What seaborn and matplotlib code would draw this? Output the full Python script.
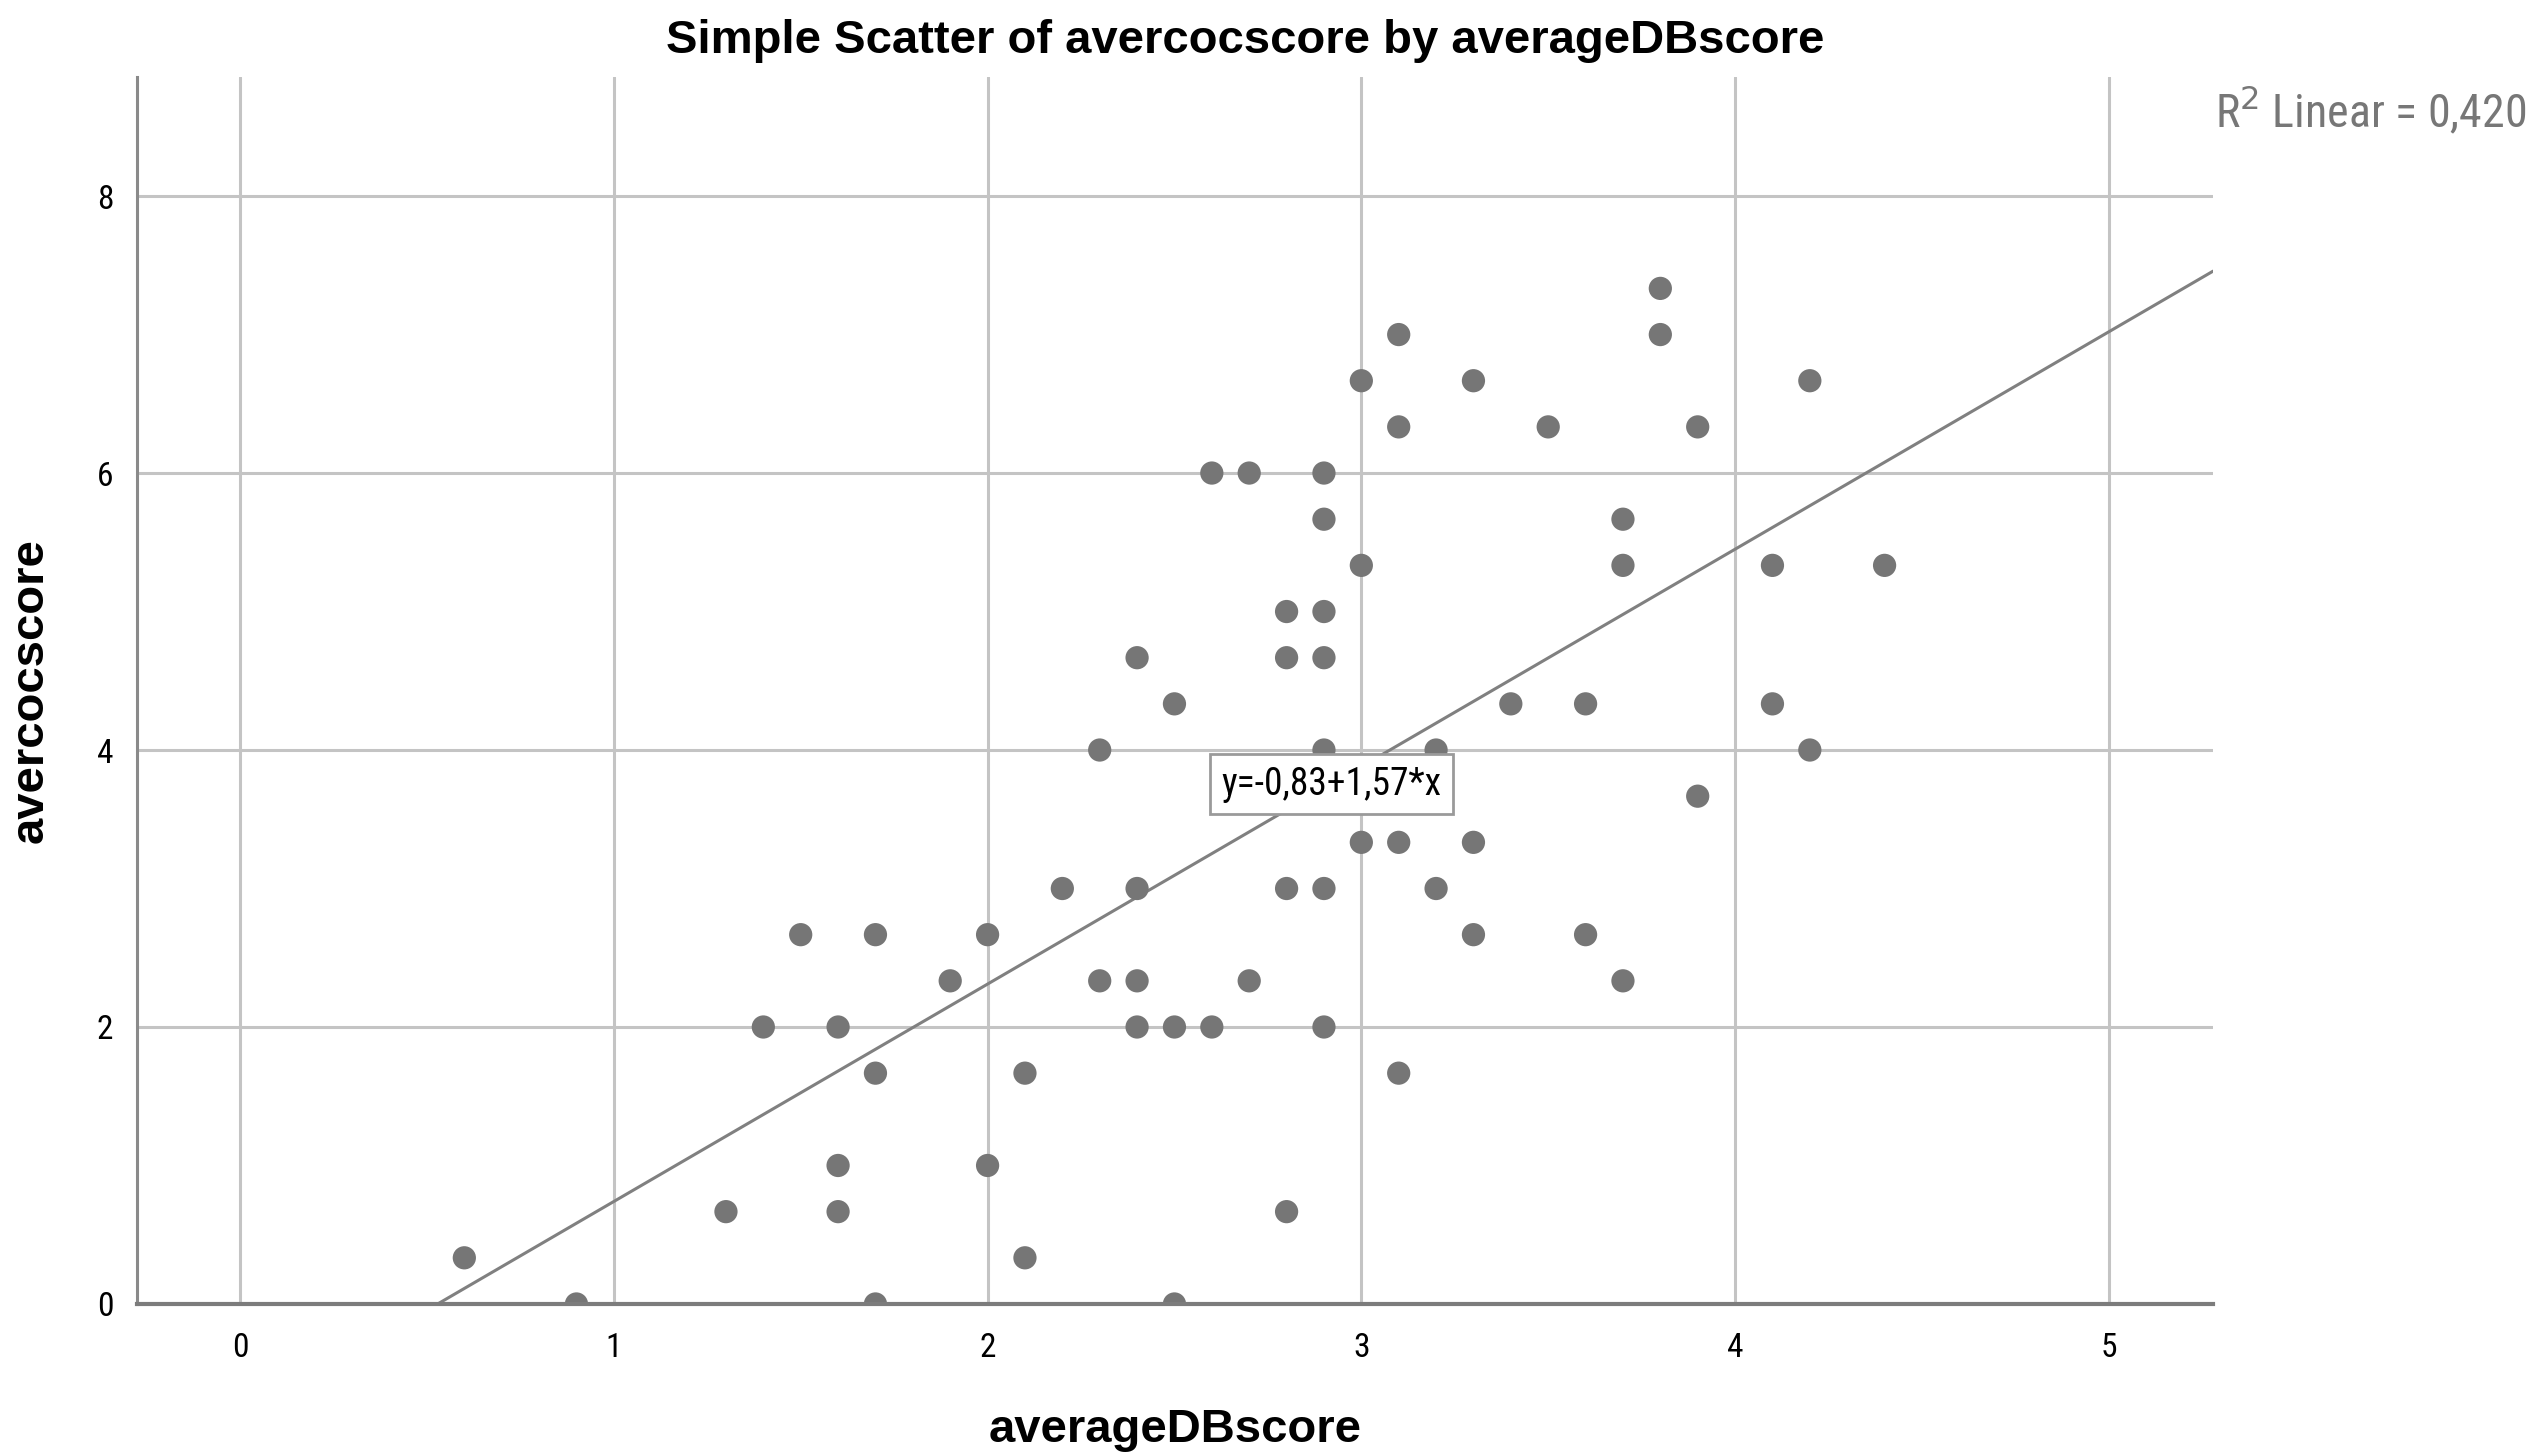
import os
import numpy as np
import pandas as pd
import matplotlib
matplotlib.use("Agg")
import matplotlib.pyplot as plt
import seaborn as sns
from matplotlib import font_manager
from matplotlib.font_manager import FontProperties

# averageDBscore (x) and avercocscore (y) for each respondent
average_db = [0.6, 0.9, 1.3, 1.4, 1.5, 1.6, 1.6, 1.6, 1.7, 1.7, 1.7, 1.9, 2.0, 2.0,
              2.1, 2.1, 2.2, 2.3, 2.3, 2.4, 2.4, 2.4, 2.4, 2.5, 2.5, 2.5, 2.6, 2.6,
              2.7, 2.7, 2.8, 2.8, 2.8, 2.8, 2.9, 2.9, 2.9, 2.9, 2.9, 2.9, 2.9,
              3.0, 3.0, 3.0, 3.1, 3.1, 3.1, 3.1, 3.2, 3.2, 3.3, 3.3, 3.3, 3.4,
              3.5, 3.6, 3.6, 3.7, 3.7, 3.7, 3.8, 3.8, 3.9, 3.9, 4.1, 4.1, 4.2,
              4.2, 4.4]
avercoc = [1/3, 0, 2/3, 2, 8/3, 2, 1, 2/3, 8/3, 5/3, 0, 7/3, 8/3, 1,
           5/3, 1/3, 3, 4, 7/3, 14/3, 3, 7/3, 2, 13/3, 2, 0, 6, 2,
           6, 7/3, 5, 14/3, 3, 2/3, 6, 17/3, 5, 14/3, 4, 3, 2,
           20/3, 16/3, 10/3, 7, 19/3, 10/3, 5/3, 4, 3, 20/3, 10/3, 8/3, 13/3,
           19/3, 13/3, 8/3, 17/3, 16/3, 7/3, 22/3, 7, 19/3, 11/3, 16/3, 13/3, 20/3,
           4, 16/3]

# fitted linear model as reported
intercept = -0.83
slope = 1.57
r_squared = "0,420"

x_ticks = [0, 1, 2, 3, 4, 5]
y_ticks = [0, 2, 4, 6, 8]

title = "Simple Scatter of avercocscore by averageDBscore"
x_label = "averageDBscore"
y_label = "avercocscore"

sns.set_theme(style="white")
plt.rcParams["font.family"] = ["Liberation Sans", "DejaVu Sans"]


def find_narrow_font():
    """Pick a regular-weight condensed sans face if one is installed."""
    prefs = ["liberation sans narrow", "roboto condensed", "open sans condensed",
             "noto sans condensed", "dejavu sans condensed", "dejavu sans"]
    found = []
    for f in font_manager.fontManager.ttflist:
        base = os.path.basename(f.fname).lower()
        name = f.name.lower()
        is_narrow = ("narrow" in base or "condensed" in base or "narrow" in name
                     or "condensed" in name or f.stretch in ("condensed", "semi-condensed"))
        if not is_narrow or f.style != "normal":
            continue
        if "bold" in base or "light" in base or "thin" in base or "black" in base \
                or "medium" in base or "semibold" in base or "oblique" in base or "italic" in base:
            continue
        key = base.replace("-", " ").replace("_", " ")
        rank = len(prefs)
        for i, p in enumerate(prefs):
            if p.split()[0] in key or p.split()[0] in name:
                rank = i
                break
        found.append((rank, f.fname))
    if found:
        found.sort()
        return found[0][1]
    return None


narrow_path = find_narrow_font()


def narrow_props(size):
    if narrow_path:
        return FontProperties(fname=narrow_path, size=size)
    return FontProperties(family=["Liberation Sans", "DejaVu Sans"], size=size)


df = pd.DataFrame({x_label: average_db, y_label: avercoc})

fig = plt.figure(figsize=(25.31, 14.55), dpi=100)
ax = fig.add_axes([0.0541, 0.1038, 0.8203, 0.8433])

xlim = (-0.276, 5.279)
ylim = (0, 8.86)
ax.set_xlim(*xlim)
ax.set_ylim(*ylim)

grid_color = "#c4c4c4"
for xv in x_ticks:
    ax.axvline(xv, color=grid_color, lw=2.2, zorder=0)
for yv in y_ticks[1:]:
    ax.axhline(yv, color=grid_color, lw=2.2, zorder=0)

# fit line across the whole plotting range
line_x = np.array(xlim)
line_df = pd.DataFrame({"x": line_x, "y": intercept + slope * line_x})
sns.lineplot(data=line_df, x="x", y="y", ax=ax, color="#808080", lw=2.2, zorder=2)

sns.scatterplot(data=df, x=x_label, y=y_label, ax=ax, s=280, color="#767676",
                edgecolor="none", linewidth=0, zorder=3)

ax.set_xticks(x_ticks)
ax.set_yticks(y_ticks)
ax.set_xticklabels([str(v) for v in x_ticks])
ax.set_yticklabels([str(v) for v in y_ticks])
ax.tick_params(axis="both", length=0, colors="black")
ax.tick_params(axis="x", pad=20)
ax.tick_params(axis="y", pad=17)
for lab in ax.get_xticklabels() + ax.get_yticklabels():
    lab.set_fontproperties(narrow_props(24))

for side in ["top", "right"]:
    ax.spines[side].set_visible(False)
ax.spines["left"].set_color("#8a8a8a")
ax.spines["left"].set_linewidth(2.2)
ax.spines["bottom"].set_color("#7c7c7c")
ax.spines["bottom"].set_linewidth(3)
ax.spines["bottom"].set_zorder(4)

ax.set_xlabel(x_label, fontsize=34, fontweight="bold", color="black")
ax.set_ylabel(y_label, fontsize=34, fontweight="bold", color="black")
ax.xaxis.set_label_coords(0.5, -0.085)
ax.yaxis.set_label_coords(-0.0405, 0.5)

fig.suptitle(title, x=0.492, y=0.972, fontsize=34, fontweight="bold", va="center",
             color="black")

# equation label sitting on the fit line
eq_x = 2.92
ax.text(eq_x, intercept + slope * eq_x, "y=-0,83+1,57*x", fontproperties=narrow_props(27),
        ha="center", va="center", color="black", zorder=5,
        bbox=dict(boxstyle="square,pad=0.3", facecolor="white", edgecolor="#9a9a9a", lw=2))

fig.text(0.998, 0.924, r"R$^2$ Linear = " + r_squared, fontproperties=narrow_props(33),
         color="#777777", ha="right", va="center")

fig.savefig("out.png", dpi=100)
